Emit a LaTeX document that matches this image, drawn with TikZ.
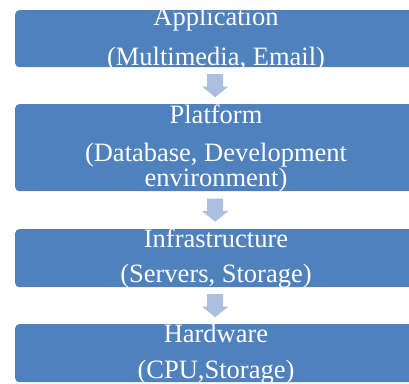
\documentclass[tikz,border=0pt]{standalone}
\usepackage{fontspec}
\setmainfont{Liberation Serif}
\usetikzlibrary{calc}
\definecolor{boxblue}{HTML}{4F81BD}
\definecolor{arrowblue}{HTML}{ABBFE0}
\begin{document}
\begin{tikzpicture}[x=1pt,y=-1pt,
  layerbox/.style={fill=boxblue, draw=none, rounded corners=4pt, inner sep=0pt,
                   minimum width=402pt, anchor=north west},
  lbl/.style={anchor=base, text=white, inner sep=0pt,
              font=\fontsize{26.5}{30}\selectfont},
  blockarrow/.pic={\fill[arrowblue] (-8,-11.5) -- (8,-11.5) -- (8,1) -- (13,1)
                   -- (0,11.5) -- (-13,1) -- (-8,1) -- cycle;}
]
\useasboundingbox (0,0) rectangle (409,383);
\clip (0,0) rectangle (409,383);

% boxes
\node[layerbox, minimum height=57pt] (app)   at (15,10)  {};
\node[layerbox, minimum height=87pt] (plat)  at (15,104) {};
\node[layerbox, minimum height=58pt] (infra) at (15,229) {};
\node[layerbox, minimum height=58pt] (hw)    at (15,324) {};

% arrows between boxes
\pic at ($(app.south)!0.5!(plat.north)+(-1,0)$) {blockarrow};
\pic at ($(plat.south)!0.5!(infra.north)+(-1,0)$) {blockarrow};
\pic at ($(infra.south)!0.5!(hw.north)+(-1,0)$) {blockarrow};

% texts
\node[lbl] (t1a) at (216,25)  {Application};
\node[lbl] (t1b) at (216,65)  {(Multimedia, Email)};
\node[lbl] (t2a) at (216,123) {Platform};
\node[lbl] (t2b) at (216,161) {(Database, Development};
\node[lbl] (t2c) at (216,186) {environment)};
\node[lbl] (t3a) at (216,247) {Infrastructure};
\node[lbl] (t3b) at (216,282) {(Servers, Storage)};
\node[lbl] (t4a) at (216,342) {Hardware};
\node[lbl] (t4b) at (216,378) {(CPU,Storage)};
\end{tikzpicture}
\end{document}
